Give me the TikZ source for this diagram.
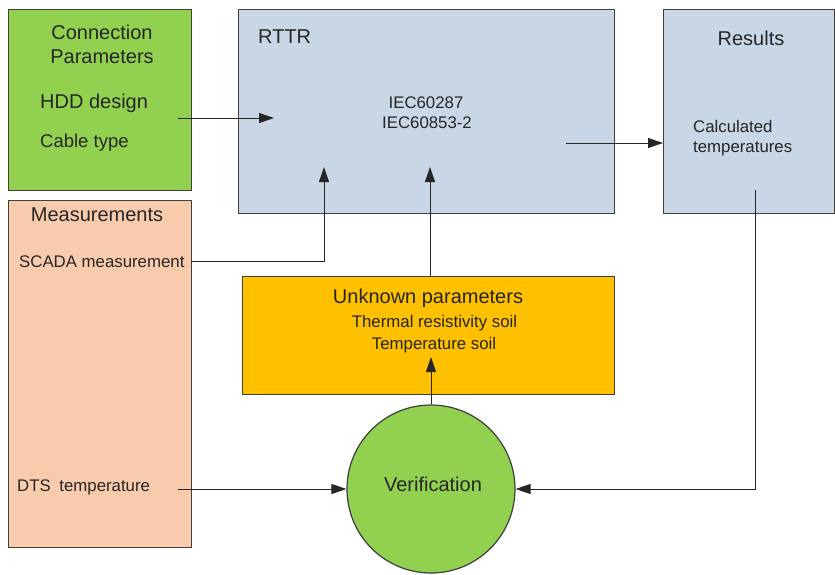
\documentclass[tikz,border=0pt]{standalone}
\usepackage{fontspec}
\setmainfont{Liberation Sans}
\usetikzlibrary{arrows.meta}
\definecolor{gfill}{HTML}{92D050}
\definecolor{pfill}{HTML}{F8CBAD}
\definecolor{bfill}{HTML}{C9D6E5}
\definecolor{ofill}{HTML}{FFC000}
\definecolor{edge}{HTML}{3F3F3F}
\definecolor{txt}{HTML}{262626}
\begin{document}
\begin{tikzpicture}[x=1pt,y=-1pt,
 box/.style={draw=edge, line width=1.2pt, anchor=north west, inner sep=0},
 lbl/.style={inner sep=0, text=txt},
 big/.style={lbl, font=\fontsize{20}{23}\selectfont},
 small/.style={lbl, font=\fontsize{16.8}{20}\selectfont},
 conn/.style={line width=0.9pt, draw=black!85},
 arr/.style={conn, -{Triangle[length=15pt,width=10pt]}}]
\useasboundingbox (0,0) rectangle (835,574);
% boxes
\node[box, fill=gfill, minimum width=183pt, minimum height=181pt] (cp) at (8,9) {};
\node[box, fill=pfill, minimum width=183pt, minimum height=347pt] (meas) at (8,200) {};
\node[box, fill=bfill, minimum width=376pt, minimum height=204pt] (rttr) at (238,9) {};
\node[box, fill=bfill, minimum width=171pt, minimum height=204pt] (res) at (663,9) {};
\node[box, fill=ofill, minimum width=372pt, minimum height=118pt] (unk) at (242,276) {};
\node[circle, draw=edge, line width=1.2pt, fill=gfill, minimum size=168pt, inner sep=0] (ver) at (431,489) {};
% texts
\node[big, anchor=base] (t1) at (102,39) {Connection};
\node[big, anchor=base] (t2) at (102,63) {Parameters};
\node[big, anchor=base west] (t3) at (40,108) {HDD design};
\node[lbl, font=\fontsize{18.5}{22}\selectfont, anchor=base west] (t4) at (40,147) {Cable type};
\node[big, anchor=base west] (t5) at (258,43) {RTTR};
\node[small, anchor=base] (t6) at (426,108) {IEC60287};
\node[small, anchor=base] (t7) at (427,128) {IEC60853-2};
\node[big, anchor=base] (t8) at (751,45) {Results};
\node[small, anchor=base west] (t9) at (693,132) {Calculated};
\node[small, anchor=base west] (t10) at (693,152) {temperatures};
\node[big, anchor=base] (t11) at (97,221) {Measurements};
\node[small, anchor=base west] (t12) at (19,267) {SCADA measurement};
\node[big, anchor=base] (t13) at (428,303) {Unknown parameters};
\node[small, anchor=base] (t14) at (434.5,327) {Thermal resistivity soil};
\node[small, anchor=base] (t15) at (434,349) {Temperature soil};
\node[big, anchor=base] (t16) at (433,491) {Verification};
\node[small, anchor=base west] (t17) at (17,491) {DTS\hspace{4pt} temperature};
% connector ends
\coordinate (hddout) at (178,118);
\coordinate (hddin) at (274,118);
\coordinate (scout) at (191,261);
\coordinate (scin) at (324,167);
\coordinate (unkout) at (430,276);
\coordinate (unkin) at (430,167);
\coordinate (rttrout) at (566,143);
\coordinate (resin) at (663,143);
\coordinate (resout) at (755,190);
\coordinate (dtsout) at (178,489);
\coordinate (verin) at (431,357);
% connectors
\draw[arr] (hddout) -- (hddin);
\draw[arr] (scout) -| (scin);
\draw[arr] (unkout) -- (unkin);
\draw[arr] (rttrout) -- (resin);
\draw[arr] (resout) |- (ver.east);
\draw[arr] (dtsout) -- (ver.west);
\draw[arr] (ver.north) -- (verin);
\end{tikzpicture}
\end{document}
